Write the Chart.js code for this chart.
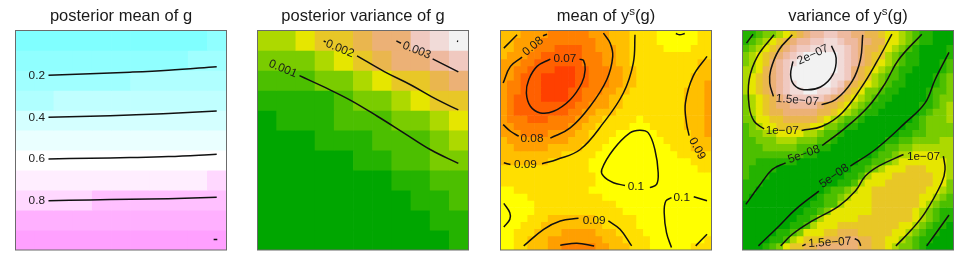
<!DOCTYPE html>
<html><head><meta charset="utf-8">
<style>html,body{margin:0;padding:0;background:#fff;width:969px;height:266px;overflow:hidden}canvas{position:absolute;top:0;filter:blur(0.35px)}</style>
<script src="https://cdn.jsdelivr.net/npm/chart.js@4"></script>
</head><body>
<canvas id="c0" width="242" height="266" style="left:0px"></canvas>
<canvas id="c1" width="242" height="266" style="left:242px"></canvas>
<canvas id="c2" width="242" height="266" style="left:485px"></canvas>
<canvas id="c3" width="242" height="266" style="left:727px"></canvas>
<script>
const cmColors=['#80FFFF','#90FFFF','#A0FFFF','#B0FFFF','#C0FFFF','#D4FFFF','#EAFFFF','#FFFFFF','#FFEEFF','#FFD8FF','#FFC0FF','#FFB0FF','#FFA0FF'];
const terrainColors=['#00A600','#24B300','#4CBF00','#7ACC00','#ADD900','#E6E600','#E8C727','#EAB64E','#ECB176','#EEB99F','#F0C9C0','#F1DBD8','#F2F2F2'];
const heatColors=['#FF4000','#FF6000','#FF8000','#FF9F00','#FFBF00','#FFDF00','#FFFF00'];

// binned cell values, one string per row from the top, one hex digit per cell
const meanGCells=["00000000001","11111111122","22222233333","33444444444","55555555555","66666666666","77777777777","88888888889","9999aaaaaaa","bbbbbbbbbbb","ccccccccccc"];
const varGCells=["44566788abc","3334567889a","22233456678","11112334566","01112223345","00011122234","00000112233","00000001122","00000000112","00000000011","00000000001"];
const meanYCells=[
"4443333222 2223334445 5556666665 5","4433332222 2222334445 5556666665 5","4433322211 1122333445 5555666655 5","4333221111 1122233445 5555555555 5",
"3332211111 1122233445 5555555554 4","3322111100 0112223344 5555555554 4","3321110000 0112223344 5555555544 4","3221110000 0112223344 5555555544 3",
"3221110000 1122233445 5555555444 3","3211110000 1122334455 5555555444 3","3211111111 1223334455 5555555444 3","3211111111 2233444555 5555555444 3",
"3222111222 2334455555 6555555444 3","3322222222 3344555556 6655555444 3","3332222333 3445555666 6665555544 3","4333333333 4445556666 6666555544 4",
"4433333444 4455566666 6666655544 4","4444444445 5555666666 6666665554 5","4444444555 5556666666 6666666655 5","5555555555 5556666666 6666666665 5",
"5555555555 5555666666 6666666666 6","5555555555 5555666666 6666666666 6","6655555555 5556666666 6666666666 6","6666555555 5555566666 6666666666 6",
"6666655555 5555555666 6666666666 6","6666655555 5555555566 6666666666 6","6666555444 4444555555 6666666666 6","6665554444 4444455555 6666666666 6",
"6655544443 3333444555 5666666666 6","6655444333 3333344455 5566666666 5","6655444332 2222334445 5566666655 5"];
const varYCells=[
"1123345678 99aa998877 6554321100 0","1234567899 aabba99887 7554321100 0","23456789aa bbbbba9877 6543210000 1","3456789abc ccccba9876 6432110000 1",
"345689abcc ccccba9876 5432110001 2","445789accc ccccba8765 4321100001 2","456789accc cccbba8764 3221000012 3","456789abcc cccba87654 3211000012 3",
"456789abbc cbba976533 2110000122 3","3456789aaa aa98765432 1100000123 3","3456788999 9877654321 1000001123 4","3456778888 8776543211 0000001233 4",
"3355667777 7654322100 0000012333 4","2345566666 5533211000 0000112333 3","2334455554 4322100000 0001122333 3","2233344433 3221000000 0112233334 4",
"2223333322 2110000000 1223344444 4","2222222221 1000000001 2234455554 4","2211111100 0000000112 2345555555 4","2111100000 0000001123 4555666555 4",
"2111000000 0000011245 5566666655 4","1110000000 0000112455 5666666655 3","1100000000 0012234556 6666666554 3","1000000000 0122345556 6666665543 2",
"0000000000 1122455556 6666665432 2","0000000001 1235555556 6666654321 1","0000000011 2455555666 6666654321 1","0000000112 4555666666 6665543211 0",
"0000011235 5566777666 6655432110 0","0000112456 6677788776 6554321100 0","0001235667 7888888776 6543321000 0"];

// contour lines in grid units (x across, y down from the top)
const meanGLines=[
[[1.72,2.24],[3.89,2.17],[5.97,2.09],[7.97,1.99],[10.49,1.82]],
[[1.72,4.35],[3.89,4.30],[5.97,4.23],[7.97,4.16],[10.49,4.03]],
[[1.72,6.44],[3.89,6.40],[5.97,6.37],[7.97,6.32],[10.49,6.20]],
[[1.72,8.53],[3.89,8.49],[5.97,8.46],[7.97,8.43],[10.49,8.36]],
[[10.33,10.48],[10.52,10.48]]];
const varGLines=[
[[2.19,2.26],[3.49,2.84],[4.88,3.51],[6.27,4.31],[7.66,5.15],[9.05,5.99],[10.47,6.66]],
[[5.19,1.27],[6.61,2.06],[8.0,2.73],[9.39,3.48],[10.47,3.98]],
[[3.45,0.53],[3.56,0.57]],
[[9.13,1.42],[10.47,2.07]],
[[7.24,0.52],[7.48,0.64]],
[[10.40,0.53],[10.46,0.55]]];
const meanYLines=[
[[11.61,4.04],[12.2,4.23],[12.44,5.54],[11.95,7.42],[10.24,9.77],[7.8,11.41],[5.85,11.64],[4.39,10.7],[3.8,8.83],[4.15,6.95],[5.37,5.07],[7.32,4.04]],
[[6.83,0.52],[6.24,0.75]],
[[3.17,3.76],[1.46,5.07],[0.39,7.42]],
[[0.39,13.29],[1.46,14.23],[2.68,14.93]],
[[7.32,15.21],[10.24,13.76],[13.17,10.7],[15.61,6.95],[16.49,3.66],[16.1,1.78],[15.12,0.38]],
[[2.44,0.61],[0.49,2.49]],
[[0.49,18.69],[1.46,18.92]],
[[6.1,18.83],[8.29,18.22],[11.71,16.81],[15.12,13.05],[18.05,8.83],[19.51,4.6],[19.76,0.61]],
[[30.34,3.66],[28.29,6.48],[27.17,10.23],[27.32,13.05],[27.71,14.84]],
[[25.76,0.42],[26.34,0.61],[27.07,0.42]],
[[21.95,22.2],[22.93,21.74],[23.17,20.09],[22.68,16.81],[21.71,14.46],[20.49,14.08],[19.02,14.46],[16.59,16.81],[14.88,19.62],[15.12,20.56],[16.59,21.5],[18.29,21.88]],
[[25.12,23.61],[24.29,24.08],[24.05,25.73],[24.39,28.54],[25.12,30.66]],
[[28.39,23.47],[30.34,24.04]],
[[28.68,30.42],[30.34,28.78]],
[[0.49,24.41],[1.37,25.73],[1.37,26.67],[0.49,27.75]],
[[3.41,30.42],[6.34,28.08],[8.78,26.9],[11.46,26.53]],
[[15.85,26.9],[17.56,28.08],[19.27,30.42]],
[[8.78,30.33],[11.22,30.05],[13.76,30.42]]];
const varYLines=[
[[1.56,0.52],[0.59,1.78]],
[[4.63,0.61],[2.2,3.66],[0.98,6.95],[0.98,10.7],[1.71,12.82],[3.17,13.9]],
[[8.68,14.13],[11.71,13.52],[14.63,11.64],[17.56,7.89],[19.76,4.37],[21.95,0.52]],
[[7.32,0.61],[5.37,2.72],[4.15,5.54],[4,7.42],[4.54,9.3]],
[[11.61,10.47],[13.66,9.77],[16.1,7.18],[17.32,4.13],[17.66,0.61]],
[[13.07,2.16],[13.76,3.9],[13.27,6.24],[11.46,7.98],[9.02,8.36],[7.56,7.65],[7.07,6.24],[7.41,4.37]],
[[0.49,24.55],[2.44,21.97],[4.39,19.62],[6.34,18.69]],
[[11.71,16.24],[15.12,13.76],[18.54,10.7],[20.98,7.42],[22.93,4.13],[26.34,0.52]],
[[2.34,30.42],[5.37,27.6],[7.8,25.26],[11.22,22.68]],
[[15.85,19.15],[19.51,16.81],[23.9,13.05],[26.83,10.23],[28.29,6.95],[30.34,3.1]],
[[5.61,30.42],[7.32,28.78],[10.24,26.9],[14.15,24.79],[16.59,22.68],[18.05,20.56],[20,19.15],[23.66,17.51]],
[[29.51,17.75],[29.76,19.62],[29.27,21.5],[26.83,25.73],[24.88,28.08],[22.54,30.42]],
[[30.34,26.06],[27.07,30.42]],
[[8.78,30.42],[9.27,30.19]],
[[16.49,29.39],[17.07,29.72],[17.37,30.42]]];

// contour labels: text, x, y, rotation in degrees
const meanGLabels=[["0.2",1.11,2.27,0],["0.4",1.11,4.36,0],["0.6",1.11,6.45,0],["0.8",1.11,8.55,0]];
const varGLabels=[["0.001",1.32,1.92,22],["0.002",4.29,0.92,22],["0.003",8.3,1.0,22]];
const meanYLabels=[["0.08",4.78,2.25,-40],["0.07",9.46,4.04,0],["0.08",4.63,15.26,0],["0.09",3.66,19.01,0],["0.1",19.9,22.07,0],["0.09",28.88,16.67,62],["0.1",26.63,23.61,0],["0.09",13.76,26.9,0]];
const varYLabels=[["2e\u221207",10.34,3.43,-25],["1.5e\u221207",8.05,9.86,5],["1e\u221207",5.85,14.13,0],["5e\u221208",9.02,17.51,-20],["5e\u221208",13.46,20.56,-35],["1e\u221207",26.59,17.84,0],["1.5e\u221207",12.83,29.95,-3]];

const titles=[
[["posterior mean of g",0]],
[["posterior variance of g",0]],
[["mean of y",0],["s",1],["(g)",0]],
[["variance of y",0],["s",1],["(g)",0]]];

const panels=[
{cells:meanGCells,palette:cmColors,lines:meanGLines,labels:meanGLabels,title:titles[0],pad:{left:15.5,right:15.5,top:30.5,bottom:16}},
{cells:varGCells,palette:terrainColors,lines:varGLines,labels:varGLabels,title:titles[1],pad:{left:15.5,right:15.5,top:30.5,bottom:16}},
{cells:meanYCells,palette:heatColors,lines:meanYLines,labels:meanYLabels,title:titles[2],pad:{left:15.5,right:15.5,top:30.5,bottom:16}},
{cells:varYCells,palette:terrainColors,lines:varYLines,labels:varYLabels,title:titles[3],pad:{left:15.5,right:15.5,top:30.5,bottom:16}}];

const FONT='"Liberation Sans", Arial, sans-serif';

const decorate={
  id:'decorate',
  afterDatasetsDraw(chart,args,opts){
    const c=chart.ctx,a=chart.chartArea,sx=chart.scales.x,sy=chart.scales.y;
    c.save();
    c.strokeStyle='#6b6b6b';c.lineWidth=1;
    c.strokeRect(a.left,a.top,a.right-a.left,a.bottom-a.top);
    c.fillStyle='#1a1a1a';c.font='11.8px '+FONT;c.textAlign='center';c.textBaseline='middle';
    opts.labels.forEach(([t,x,y,rot])=>{
      c.save();c.translate(sx.getPixelForValue(x),sy.getPixelForValue(y));c.rotate(rot*Math.PI/180);
      c.fillText(t,0,0);c.restore();
    });
    // title, with superscript pieces
    c.textAlign='left';c.textBaseline='alphabetic';
    const big='16.5px '+FONT,small='11.5px '+FONT;
    let w=0;opts.title.forEach(([t,s])=>{c.font=s?small:big;w+=c.measureText(t).width;});
    let x=(a.left+a.right)/2-w/2;
    opts.title.forEach(([t,s])=>{
      c.font=s?small:big;c.fillText(t,x,s?15:21);x+=c.measureText(t).width;
    });
    c.restore();
  }
};

panels.forEach((p,i)=>{
  const rows=p.cells.map(r=>r.replace(/ /g,''));
  const n=rows.length,m=rows[0].length;
  const bars=rows.map((r,ri)=>({
    type:'bar',order:2,
    data:[...r].map((ch,ci)=>({x:ci+0.5,y:[ri,ri+1]})),
    backgroundColor:[...r].map(ch=>p.palette[parseInt(ch,16)]),
    borderWidth:0,barPercentage:1,categoryPercentage:1,grouped:false
  }));
  const lines=p.lines.map(l=>({
    type:'line',order:1,
    data:l.map(([x,y])=>({x,y})),
    borderColor:'#111',borderWidth:1.5,pointRadius:0,tension:0.4,fill:false,borderCapStyle:'butt'
  }));
  new Chart(document.getElementById('c'+i),{
    type:'bar',
    data:{datasets:[...lines,...bars]},
    options:{
      responsive:false,animation:false,devicePixelRatio:1,
      layout:{padding:p.pad},
      parsing:{xAxisKey:'x',yAxisKey:'y'},
      scales:{
        x:{type:'linear',min:0,max:m,display:false,offset:false},
        y:{type:'linear',min:0,max:n,reverse:true,display:false}
      },
      plugins:{legend:{display:false},tooltip:{enabled:false},title:{display:false},
        decorate:{labels:p.labels,title:p.title}}
    },
    plugins:[decorate]
  });
});
</script>
</body></html>
